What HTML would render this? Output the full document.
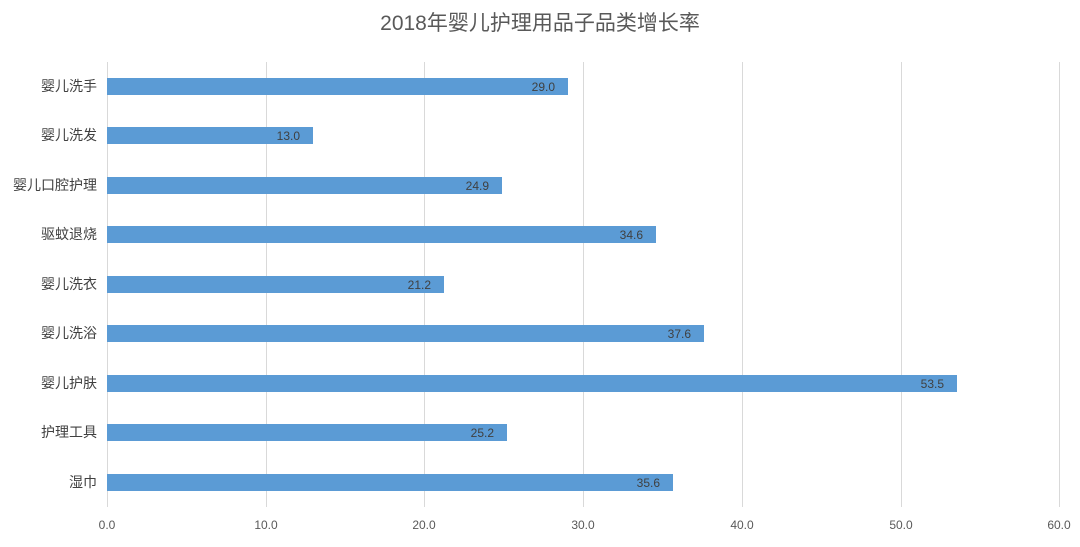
<!DOCTYPE html>
<html><head><meta charset="utf-8"><style>
body{margin:0;background:#fff;}
svg text{font-family:"Liberation Sans","Noto Sans CJK SC",sans-serif;}
</style></head><body>
<svg width="1080" height="542" viewBox="0 0 1080 542" xmlns="http://www.w3.org/2000/svg">
<rect width="1080" height="542" fill="#fff"/>
<text x="540" y="30" text-anchor="middle" font-size="21" fill="#595959">2018年婴儿护理用品子品类增长率</text>
<g stroke="#d9d9d9" stroke-width="1">
<line x1="107.5" y1="62" x2="107.5" y2="507"/>
<line x1="266.5" y1="62" x2="266.5" y2="507"/>
<line x1="424.5" y1="62" x2="424.5" y2="507"/>
<line x1="583.5" y1="62" x2="583.5" y2="507"/>
<line x1="742.5" y1="62" x2="742.5" y2="507"/>
<line x1="901.5" y1="62" x2="901.5" y2="507"/>
<line x1="1059.5" y1="62" x2="1059.5" y2="507"/>
</g>
<g font-size="12" fill="#595959" text-anchor="middle">
<text x="107" y="529">0.0</text><text x="266" y="529">10.0</text><text x="424" y="529">20.0</text>
<text x="583" y="529">30.0</text><text x="742" y="529">40.0</text><text x="901" y="529">50.0</text><text x="1059" y="529">60.0</text>
</g>
<g fill="#5b9bd5">
<rect x="107" y="78" width="461" height="17"/>
<rect x="107" y="127" width="206" height="17"/>
<rect x="107" y="177" width="395" height="17"/>
<rect x="107" y="226" width="549" height="17"/>
<rect x="107" y="276" width="337" height="17"/>
<rect x="107" y="325" width="597" height="17"/>
<rect x="107" y="375" width="850" height="17"/>
<rect x="107" y="424" width="400" height="17"/>
<rect x="107" y="474" width="566" height="17"/>
</g>
<g font-size="12" fill="#404040" text-anchor="end">
<text x="555" y="91">29.0</text><text x="300" y="140">13.0</text><text x="489" y="190">24.9</text>
<text x="643" y="239">34.6</text><text x="431" y="289">21.2</text><text x="691" y="338">37.6</text>
<text x="944" y="388">53.5</text><text x="494" y="437">25.2</text><text x="660" y="487">35.6</text>
</g>
<g font-size="14" fill="#404040" text-anchor="end">
<text x="97" y="91">婴儿洗手</text><text x="97" y="140">婴儿洗发</text><text x="97" y="190">婴儿口腔护理</text>
<text x="97" y="239">驱蚊退烧</text><text x="97" y="289">婴儿洗衣</text><text x="97" y="338">婴儿洗浴</text>
<text x="97" y="388">婴儿护肤</text><text x="97" y="437">护理工具</text><text x="97" y="487">湿巾</text>
</g>
</svg>
</body></html>
